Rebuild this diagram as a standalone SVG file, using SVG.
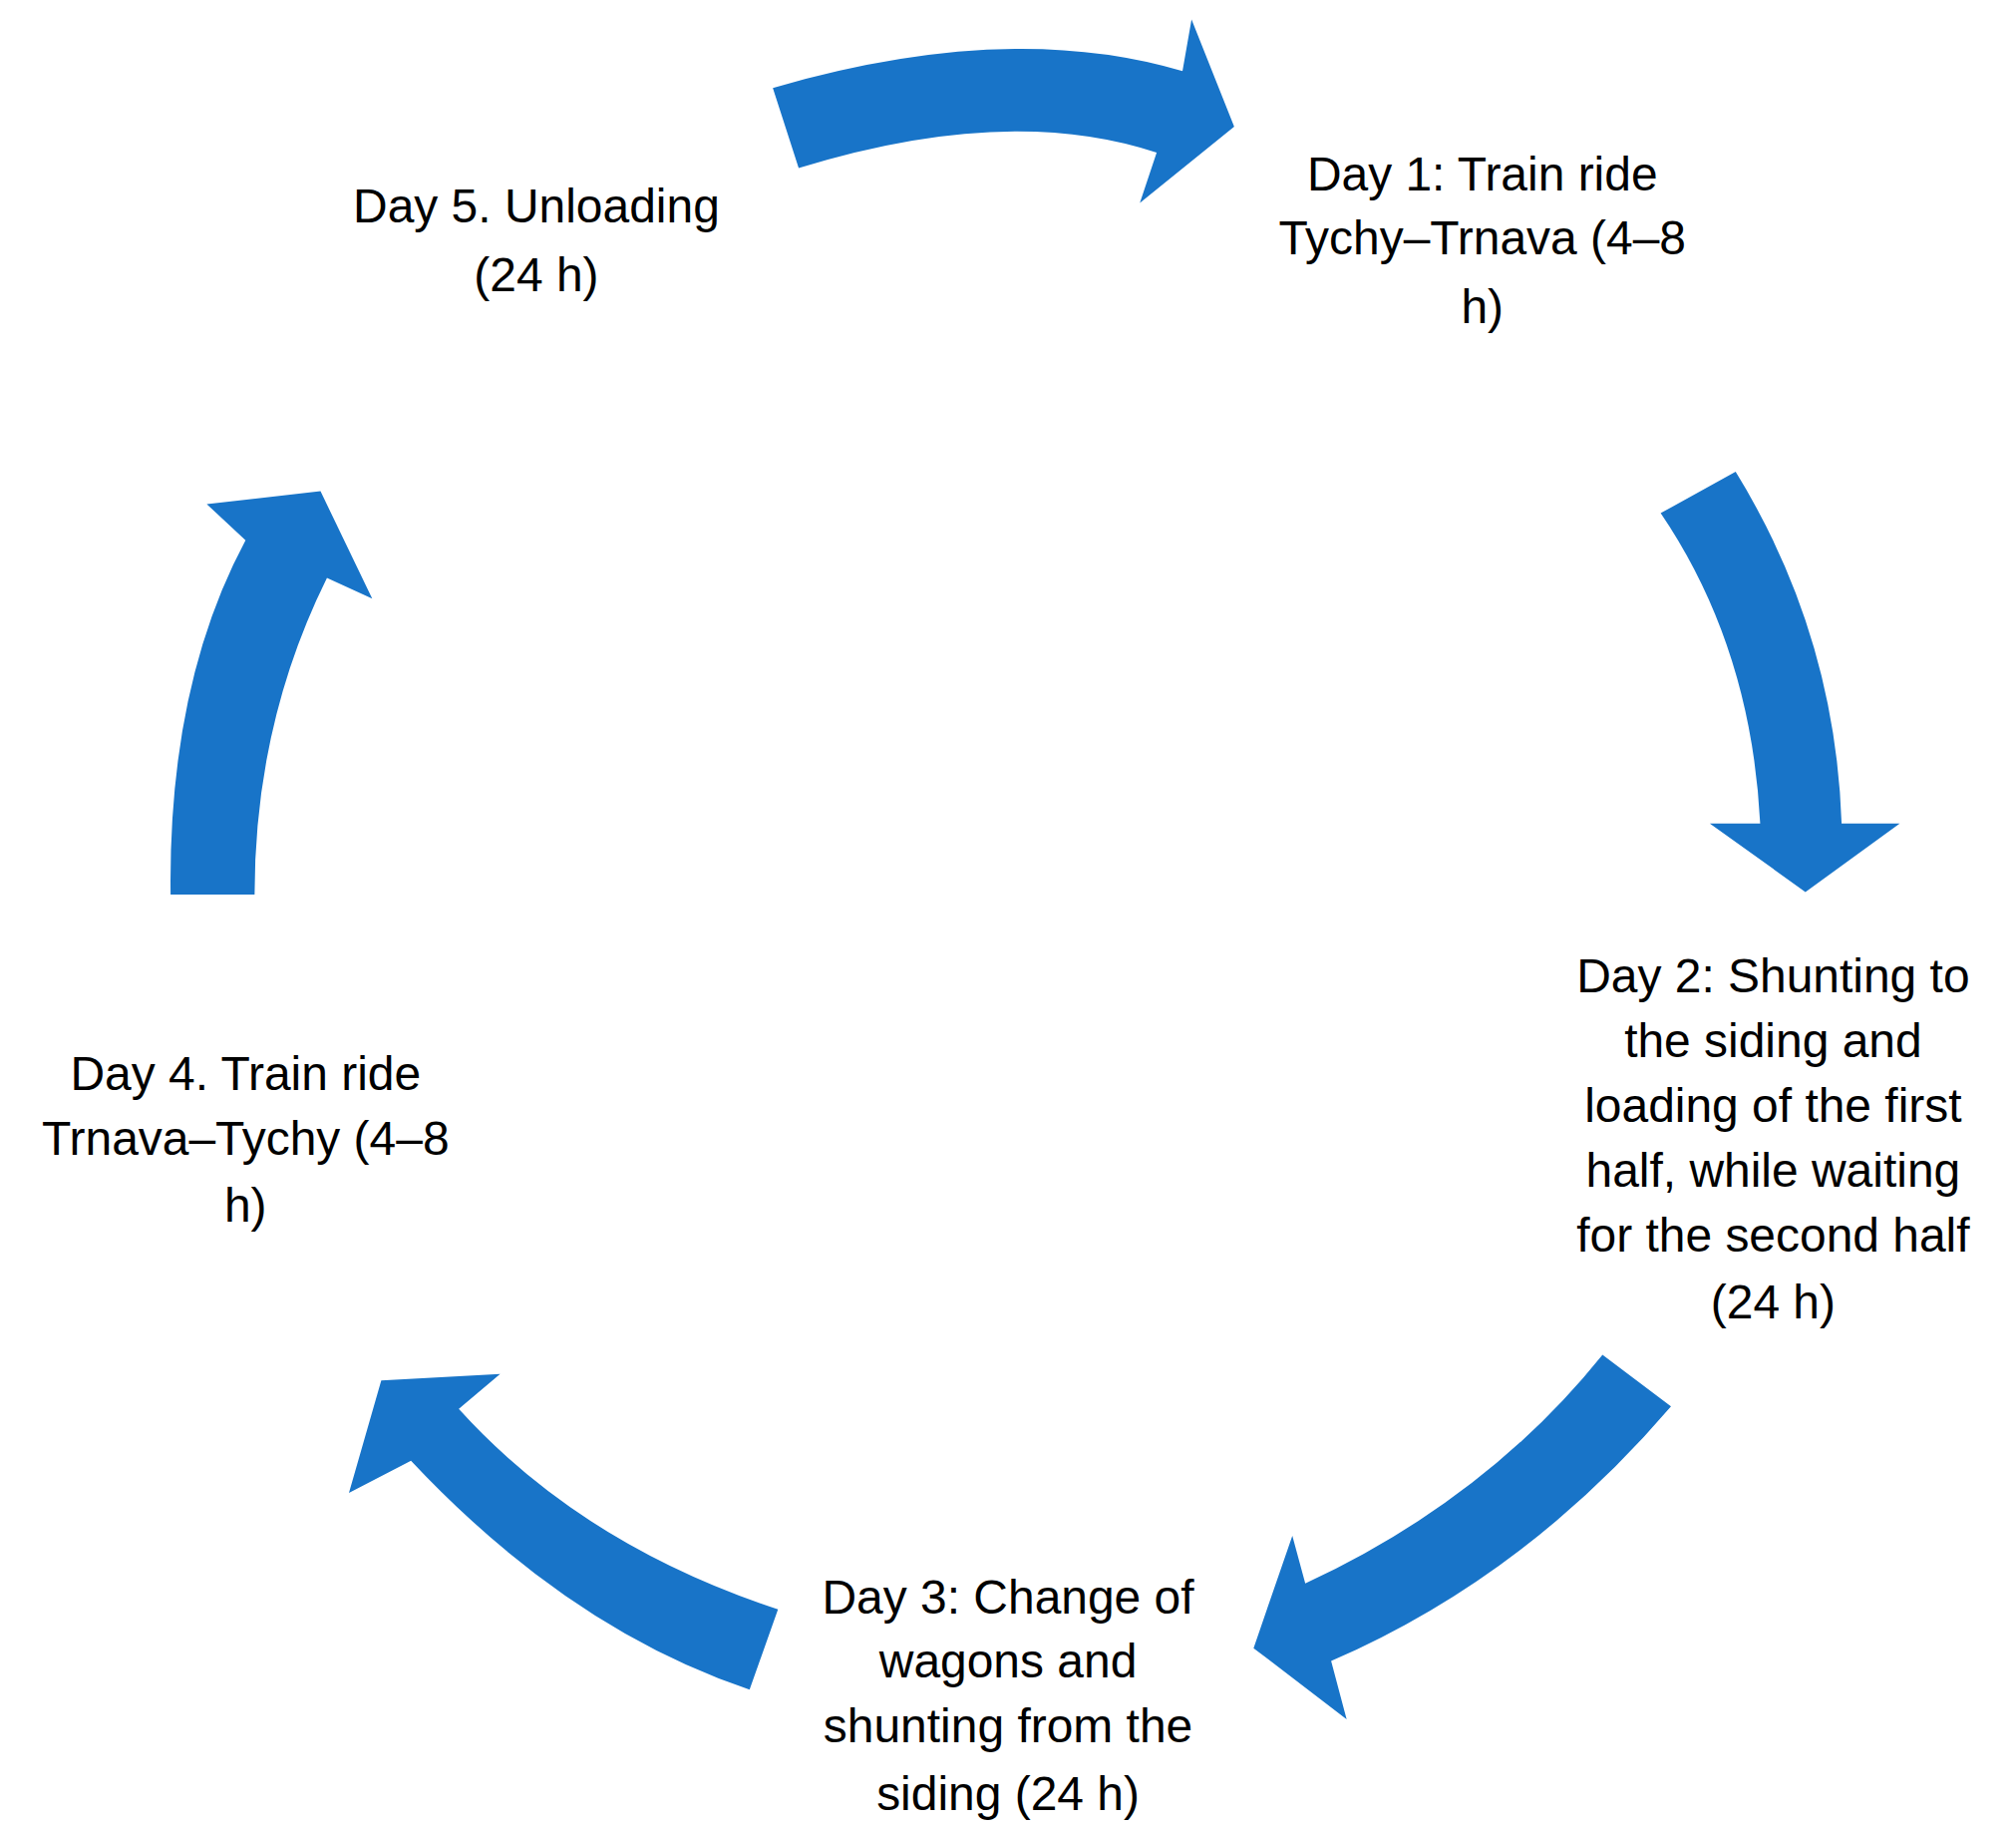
<svg xmlns="http://www.w3.org/2000/svg" width="2022" height="1833" viewBox="0 0 2022 1833">
<style>
.a{fill:#1874C8}
text{font-family:"Liberation Sans",Arial,sans-serif;font-size:37px;fill:#000;text-anchor:middle}
</style>
<rect width="2022" height="1833" fill="#fff"/>
<g transform="scale(1.2962)">
<g id="connectors">
<path class="a" d="M598,68 Q780,15 915,55 L922,15 L955,98 L882,157 L895,118 Q780,80 618,130 Z"/>
<path class="a" d="M1285,397 L1343,365 Q1420,490 1425,637 L1470,637 L1397,690 L1323,637 L1362,637 Q1355,500 1285,397 Z"/>
<path class="a" d="M1240,1048 L1293,1088 Q1180,1220 1030,1285 L1042,1330 L970,1275 L1000,1188 L1010,1225 Q1150,1160 1240,1048 Z"/>
<path class="a" d="M602,1245 Q450,1195 355,1090 L387,1063 L295,1068 L270,1155 L318,1130 Q440,1260 580,1307 Z"/>
<path class="a" d="M132,692 Q130,530 190,418 L160,390 L248,380 L288,463 L253,447 Q197,560 197,692 Z"/>
</g>
<g id="day5"><text x="415" y="172">Day 5. Unloading</text><text x="415" y="225">(24 h)</text></g>
<g id="day1"><text x="1147" y="147">Day 1: Train ride</text><text x="1147" y="197">Tychy–Trnava (4–8</text><text x="1147" y="250">h)</text></g>
<g id="day2"><text x="1372" y="768">Day 2: Shunting to</text><text x="1372" y="818">the siding and</text><text x="1372" y="868">loading of the first</text><text x="1372" y="918">half, while waiting</text><text x="1372" y="968">for the second half</text><text x="1372" y="1020">(24 h)</text></g>
<g id="day3"><text x="780" y="1248">Day 3: Change of</text><text x="780" y="1298">wagons and</text><text x="780" y="1348">shunting from the</text><text x="780" y="1400">siding (24 h)</text></g>
<g id="day4"><text x="190" y="843">Day 4. Train ride</text><text x="190" y="893">Trnava–Tychy (4–8</text><text x="190" y="945">h)</text></g>
</g>
</svg>
